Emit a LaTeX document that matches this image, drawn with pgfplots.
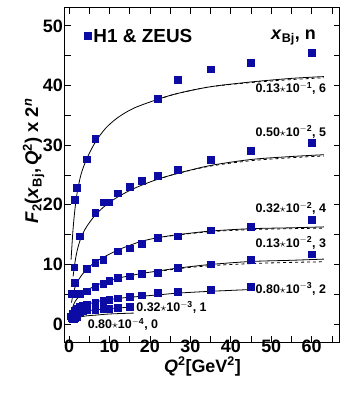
\documentclass[border=0pt]{standalone}
\usepackage{pgfplots}
\pgfplotsset{compat=1.18}
\usepackage{fontspec}
\setmainfont{Liberation Sans}
\definecolor{dblue}{RGB}{12,12,165}
\begin{document}
\begin{tikzpicture}
\begin{axis}[
  scale only axis, width=275bp, height=334bp,
  xmin=-1, xmax=67, ymin=-3, ymax=53,
  xtick={0,10,...,60}, ytick={0,10,...,50},
  minor xtick={5,15,...,65}, minor ytick={5,15,...,45},
  tick align=inside, major tick length=6bp, minor tick length=6bp,
  tick style={line width=0.8bp, black},
  axis line style={line width=1bp},
  /pgf/number format/assume math mode=true,
  ticklabel style={font=\bfseries\fontsize{18}{20}\selectfont, inner sep=1bp},
  yticklabel style={xshift=-1bp},
  xticklabel style={yshift=3bp},
  xlabel={\bfseries\fontsize{18}{21}\selectfont\textit{Q}\textsuperscript{2}[GeV\textsuperscript{2}]},
  ylabel={\bfseries\fontsize{18.5}{22}\selectfont\textit{F}\textsubscript{2}(\textit{x}\textsubscript{Bj},\,\textit{Q}\textsuperscript{2}) x 2\textsuperscript{\textit{n}}},
  xlabel style={yshift=-3bp, inner sep=0pt},
  ylabel style={yshift=-6bp, xshift=14bp},
  legend style={at={(0.06,0.95)}, anchor=north west, draw=none, fill=none,
    font=\bfseries\fontsize{19}{21}\selectfont},
  legend cell align=left,
  every axis plot/.append style={line width=0.8bp},
]
% data
\addplot[only marks, mark=square*, mark size=3.4bp, color=dblue] coordinates {
(1.5,20.8)(2.0,22.9)(4.5,27.6)(6.5,31.1)(22,37.8)(27,41.0)(35,42.7)(45,43.8)(60,45.5)};
\addlegendentry{H1 \& ZEUS}
\addplot[only marks, mark=square*, mark size=3.4bp, color=dblue, forget plot] coordinates {
(1.3,9.5)(2.7,14.7)(6.5,18.6)(8.5,20.4)(10,20.4)(12,21.9)(15,23.0)(18,24.0)(22,24.8)(27,25.8)(35,27.5)(45,29.0)(60,30.4)};
\addplot[only marks, mark=square*, mark size=3.4bp, color=dblue, forget plot] coordinates {
(1.5,6.9)(4.5,9.2)(6.5,10.3)(8.5,10.8)(12,12.2)(15,12.7)(18,13.4)(22,14.5)(27,14.7)(35,15.7)(45,16.3)(60,17.5)};
\addplot[only marks, mark=square*, mark size=3.4bp, color=dblue, forget plot] coordinates {
(0.75,5.0)(2.7,5.0)(4.5,5.5)(6.5,6.2)(8.5,6.8)(10,7.3)(12,7.7)(15,8.0)(18,8.4)(22,8.6)(27,9.4)(35,10.0)(45,10.8)(60,11.7)};
\addplot[only marks, mark=square*, mark size=3.4bp, color=dblue, forget plot] coordinates {
(1.0,1.7)(1.5,2.3)(2.0,2.6)(2.7,2.9)(3.5,3.1)(4.5,3.3)(6.5,3.5)(8.5,3.9)(10,4.0)(12,4.3)(15,4.6)(18,4.8)(22,5.2)(27,5.4)(35,5.8)(45,6.3)};
\addplot[only marks, mark=square*, mark size=3.4bp, color=dblue, forget plot] coordinates {
(1.0,1.2)(1.5,1.6)(2.0,1.8)(2.7,2.0)(3.5,2.2)(4.5,2.3)(6.5,2.3)(8.5,2.5)(10,2.5)(12,2.7)(15,2.9)};
\addplot[only marks, mark=square*, mark size=3.4bp, color=dblue, forget plot] coordinates {
(0.4,1.3)(0.6,1.0)(0.85,0.8)(1.2,0.9)(1.5,1.1)(2.0,1.2)};
% model curves (solid)
\addplot[black, smooth, no marks, forget plot] coordinates {
(0.5,10.8)(1,16)(1.5,19.5)(2,22)(3,25.2)(4.5,27.9)(6.5,30.5)(9,32.8)(12,34.6)(16,36.2)(22,37.7)(27,38.7)(35,39.8)(45,40.6)(55,41.2)(63,41.5)};
\addplot[black, smooth, no marks, forget plot] coordinates {
(1.0,8)(1.5,10.5)(2,12.3)(2.7,14)(3.5,15.3)(4.5,16.5)(6.5,18.3)(8.5,19.6)(10,20.4)(12,21.3)(15,22.4)(18,23.3)(22,24.3)(27,25.3)(35,26.6)(45,27.6)(55,28.1)(63,28.4)};
\addplot[black, smooth, no marks, forget plot] coordinates {
(0.6,3.6)(1,5.0)(1.5,6.2)(2.7,7.8)(4.5,9.3)(6.5,10.4)(8.5,11.2)(12,12.4)(15,13.2)(18,13.9)(22,14.5)(27,15.0)(35,15.6)(45,16.0)(55,16.15)(63,16.3)};
\addplot[black, smooth, no marks, forget plot] coordinates {
(0.6,2.2)(1.0,3.0)(1.5,3.8)(2.7,4.8)(4.5,5.7)(6.5,6.4)(8.5,7.0)(10,7.3)(12,7.7)(15,8.1)(18,8.5)(22,8.9)(27,9.4)(35,10.0)(45,10.5)(55,10.7)(63,10.9)};
\addplot[black, smooth, no marks, forget plot] coordinates {
(0.6,1.5)(1,2.0)(1.5,2.4)(2.7,2.9)(4.5,3.3)(6.5,3.7)(8.5,4.0)(12,4.3)(15,4.5)(22,4.9)(27,5.2)(35,5.5)(45,5.8)};
\addplot[black, smooth, no marks, forget plot] coordinates {
(0.6,0.9)(1,1.3)(1.5,1.6)(2,1.8)(2.7,2.0)(3.5,2.15)(4.5,2.25)(6.5,2.4)(8.5,2.5)(10,2.6)(12,2.7)(15.5,2.85)};
\addplot[black, smooth, no marks, forget plot] coordinates {
(0.6,0.5)(1,0.8)(1.5,1.0)(2.7,1.2)(4.5,1.4)(6.5,1.5)(10,1.7)(16,1.85)};
% dashed variants
\addplot[black, dashed, smooth, no marks, forget plot] coordinates {
(22,37.7)(27,38.7)(35,39.8)(45,40.5)(55,41.0)(63,41.3)};
\addplot[black, dashed, smooth, no marks, forget plot] coordinates {
(22,24.3)(27,25.3)(35,26.5)(45,27.4)(55,27.9)(63,28.2)};
\addplot[black, dashed, smooth, no marks, forget plot] coordinates {
(22,14.5)(27,14.95)(35,15.5)(45,15.85)(55,16.0)(63,16.1)};
\addplot[black, dashed, smooth, no marks, forget plot] coordinates {
(22,8.8)(27,9.3)(35,9.8)(45,10.15)(55,10.35)(63,10.45)};
% labels
\begin{scope}[every node/.style={font=\bfseries\fontsize{12.5}{14}\selectfont, inner sep=0pt}]
\node[anchor=east] at (axis cs:63.6,39.5) {0.13$\star$10\textsuperscript{$-$1}, 6};
\node[anchor=east] at (axis cs:63.6,32.2) {0.50$\star$10\textsuperscript{$-$2}, 5};
\node[anchor=east] at (axis cs:63.6,19.4) {0.32$\star$10\textsuperscript{$-$2}, 4};
\node[anchor=east] at (axis cs:63.6,13.6) {0.13$\star$10\textsuperscript{$-$2}, 3};
\node[anchor=east] at (axis cs:63.6,5.9) {0.80$\star$10\textsuperscript{$-$3}, 2};
\node[anchor=west] at (axis cs:16.6,2.8) {0.32$\star$10\textsuperscript{$-$3}, 1};
\node[anchor=west] at (axis cs:4.6,-0.1) {0.80$\star$10\textsuperscript{$-$4}, 0};
\end{scope}
\node[font=\bfseries\fontsize{18}{20}\selectfont] at (axis cs:55.5,48) {\textit{x}\textsubscript{Bj}, n};
\end{axis}
\path ([xshift=-65bp,yshift=-53bp]current axis.south west) rectangle ([xshift=2bp,yshift=8bp]current axis.north east);
\end{tikzpicture}
\end{document}
